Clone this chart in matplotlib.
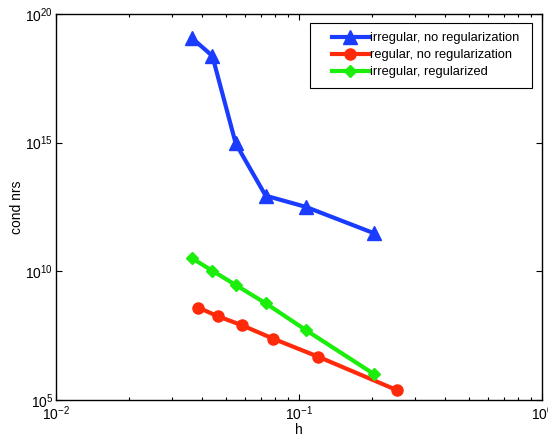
import matplotlib
matplotlib.use("Agg")
import matplotlib.pyplot as plt
from matplotlib.legend_handler import HandlerLine2D
from matplotlib.ticker import (LogLocator, NullLocator, FixedLocator,
                               LogFormatterMathtext, NullFormatter)

plt.rcParams['font.family'] = ['Liberation Sans', 'DejaVu Sans']
plt.rcParams['mathtext.fontset'] = 'custom'
plt.rcParams['mathtext.rm'] = 'Liberation Sans'
plt.rcParams['mathtext.it'] = 'Liberation Sans'

# mesh size h and condition numbers for each configuration
h_irregular = [0.0363, 0.0440, 0.0549, 0.0729, 0.1066, 0.204]
cond_irregular = [1.15e19, 2.35e18, 9.3e14, 8.7e12, 3.2e12, 3.0e11]

h_regular = [0.0385, 0.0463, 0.0581, 0.0784, 0.120, 0.252]
cond_regular = [3.9e8, 1.8e8, 8.1e7, 2.4e7, 4.8e6, 2.45e5]

h_reg_irregular = [0.0363, 0.0440, 0.0549, 0.0729, 0.1066, 0.204]
cond_reg_irregular = [3.2e10, 1.05e10, 2.95e9, 5.75e8, 5.25e7, 1.0e6]

labels = ['irregular, no regularization', 'regular, no regularization',
          'irregular, regularized']


class InsetLineHandler(HandlerLine2D):
    """Legend line sample that starts a little way into the handle box."""

    def __init__(self, lead, **kw):
        super().__init__(**kw)
        self.lead = lead

    def create_artists(self, legend, orig_handle, xdescent, ydescent,
                       width, height, fontsize, trans):
        lead = self.lead * fontsize
        return super().create_artists(legend, orig_handle, xdescent - lead,
                                      ydescent, width - lead, height,
                                      fontsize, trans)


fig = plt.figure(figsize=(5.48, 4.38), dpi=100)
ax = fig.add_axes([56 / 548, 1 - 400 / 438, 486 / 548, 386 / 438])

lw = 3.0
l1, = ax.loglog(h_irregular, cond_irregular, '-^', color='#1a3cff', lw=lw,
                ms=9.5, label=labels[0])
l2, = ax.loglog(h_regular, cond_regular, '-o', color='#ff2a0a', lw=lw,
                ms=8, label=labels[1])
l3, = ax.loglog(h_reg_irregular, cond_reg_irregular, '-D', color='#1aee0a',
                lw=lw, ms=6, label=labels[2])

ax.set_xlim(1e-2, 1e0)
ax.set_ylim(1e5, 1e20)

ax.xaxis.set_major_locator(LogLocator(base=10, numticks=10))
ax.xaxis.set_minor_locator(LogLocator(base=10, subs=range(2, 10), numticks=20))
ax.xaxis.set_minor_formatter(NullFormatter())
ax.yaxis.set_major_locator(FixedLocator([1e5, 1e10, 1e15, 1e20]))
ax.yaxis.set_major_formatter(LogFormatterMathtext())
ax.yaxis.set_minor_locator(NullLocator())

ax.tick_params(which='both', direction='in', top=True, right=True,
               labelsize=10, width=0.8)
ax.tick_params(axis='y', pad=2)
ax.tick_params(axis='x', pad=3)
ax.tick_params(which='major', length=4)
ax.tick_params(which='minor', length=2.5)
for s in ax.spines.values():
    s.set_linewidth(1.0)

ax.set_xlabel('h', fontsize=10, labelpad=0)
ax.set_ylabel('cond nrs', fontsize=10, labelpad=1)

handler = InsetLineHandler(lead=1.0)
leg = ax.legend(handles=[l1, l2, l3], loc='upper left',
                bbox_to_anchor=(254 / 486, 377 / 386, 222 / 486, 0),
                mode='expand', borderaxespad=0, fontsize=9.3,
                fancybox=False, framealpha=1, edgecolor='black',
                handlelength=3.87, handletextpad=0.1, borderpad=0.7,
                labelspacing=0.4, numpoints=1,
                handler_map={l1: handler, l2: handler, l3: handler})
leg.get_frame().set_linewidth(0.8)

fig.savefig('out.png', dpi=100)
